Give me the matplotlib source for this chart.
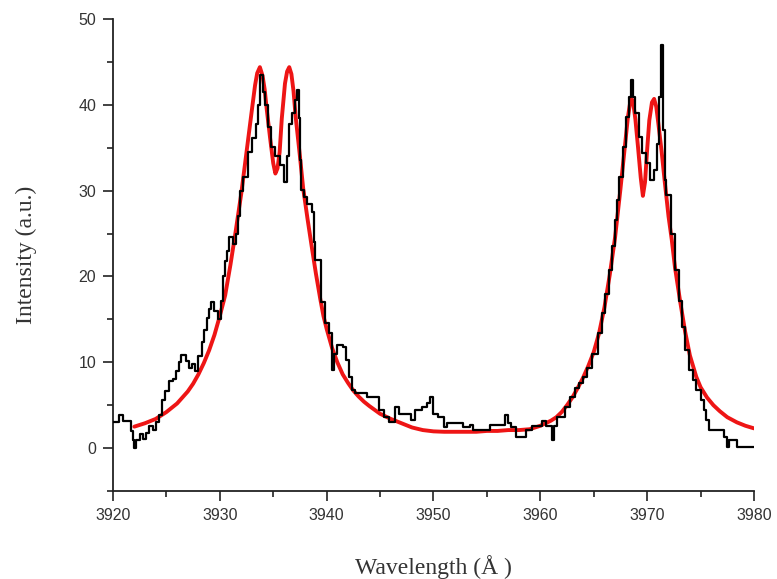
import matplotlib
matplotlib.use("Agg")
import matplotlib.pyplot as plt
from matplotlib.ticker import MultipleLocator

# Measured spectrum (black, step-like)
meas_wl = [3920.0, 3920.3, 3920.6, 3920.9, 3921.3, 3921.7, 3921.9, 3922.0, 3922.2, 3922.5,
           3922.8, 3923.1, 3923.4, 3923.7, 3924.0, 3924.3, 3924.6, 3924.9, 3925.2, 3925.6,
           3925.9, 3926.2, 3926.4, 3926.8, 3927.1, 3927.4, 3927.7, 3928.0, 3928.3, 3928.5,
           3928.8, 3929.0, 3929.2, 3929.5, 3929.8, 3930.1, 3930.3, 3930.5, 3930.7, 3930.9,
           3931.2, 3931.5, 3931.7, 3931.9, 3932.2, 3932.6, 3933.0, 3933.4, 3933.6, 3933.8,
           3934.0, 3934.2, 3934.5, 3934.8, 3935.2, 3935.6, 3936.0, 3936.3, 3936.5, 3936.8,
           3937.0, 3937.2, 3937.4, 3937.5, 3937.6, 3937.9, 3938.2, 3938.6, 3938.8, 3938.9,
           3939.5, 3939.8, 3940.2, 3940.5, 3940.7, 3941.0, 3941.5, 3941.8, 3942.1, 3942.4,
           3942.7, 3943.8, 3944.9, 3945.4, 3945.8, 3946.4, 3946.8, 3947.9, 3948.3, 3948.9,
           3949.4, 3949.7, 3950.0, 3950.4, 3951.0, 3951.3, 3952.8, 3953.4, 3953.7, 3955.3,
           3956.7, 3957.0, 3957.3, 3957.7, 3958.7, 3959.2, 3960.2, 3960.5, 3961.1, 3961.3,
           3961.6, 3962.3, 3962.8, 3963.2, 3963.6, 3964.0, 3964.4, 3964.8, 3965.4, 3965.8,
           3966.1, 3966.4, 3966.7, 3967.0, 3967.2, 3967.4, 3967.7, 3968.0, 3968.3, 3968.5,
           3968.7, 3968.9, 3969.2, 3969.5, 3969.9, 3970.3, 3970.6, 3970.9, 3971.1, 3971.3,
           3971.5, 3971.7, 3971.8, 3972.2, 3972.6, 3973.0, 3973.3, 3973.5, 3973.9, 3974.3,
           3974.6, 3975.0, 3975.3, 3975.5, 3975.8, 3977.2, 3977.5, 3977.7, 3978.4, 3980.0]
meas_int = [3.0, 3.0, 3.8, 3.2, 3.1, 2.0, 0.9, 0.0, 1.0, 1.6,
            1.1, 1.8, 2.6, 2.1, 3.0, 3.8, 5.6, 6.6, 7.8, 8.1,
            9.0, 10.0, 10.8, 10.2, 9.3, 9.8, 9.0, 10.7, 12.4, 13.8,
            15.2, 16.2, 17.0, 16.0, 15.1, 17.2, 20.0, 21.8, 23.0, 24.6,
            23.8, 25.0, 27.0, 30.0, 31.6, 34.5, 36.2, 37.8, 40.0, 43.5,
            41.5, 40.0, 37.4, 35.1, 34.0, 33.0, 31.0, 34.0, 37.8, 39.0,
            40.6, 41.7, 38.5, 33.6, 30.1, 29.3, 28.5, 27.5, 24.0, 21.9,
            17.0, 14.6, 13.4, 9.1, 11.0, 12.0, 11.8, 10.3, 8.3, 6.8,
            6.4, 6.0, 4.4, 3.6, 3.0, 4.8, 4.0, 3.3, 4.4, 4.8,
            5.2, 5.9, 4.0, 3.6, 2.5, 2.9, 2.5, 2.7, 2.1, 2.7,
            3.8, 2.9, 2.5, 1.3, 2.1, 2.6, 3.1, 2.6, 0.9, 2.6,
            3.6, 4.8, 6.0, 7.0, 7.6, 8.3, 9.3, 11.0, 13.4, 15.7,
            18.0, 20.7, 23.5, 26.6, 28.9, 31.6, 35.1, 38.6, 40.9, 42.9,
            40.9, 39.0, 36.3, 34.4, 33.2, 31.2, 32.4, 35.5, 40.9, 47.0,
            37.1, 31.2, 29.5, 25.0, 20.7, 17.2, 14.1, 11.4, 9.1, 7.9,
            6.8, 5.6, 4.4, 3.3, 2.1, 1.3, 0.1, 0.9, 0.1, 0.1]

# Fitted profile (red)
fit_wl = [3922.0, 3923.0, 3924.0, 3925.0, 3926.0, 3927.0, 3927.5, 3928.0, 3928.5, 3929.0,
          3929.5, 3930.0, 3930.5, 3931.0, 3931.5, 3932.0, 3932.5, 3933.0, 3933.3, 3933.5,
          3933.75, 3934.0, 3934.2, 3934.4, 3934.7, 3935.0, 3935.2, 3935.4, 3935.6, 3935.8,
          3936.1, 3936.3, 3936.5, 3936.7, 3936.9, 3937.1, 3937.5, 3937.8, 3938.2, 3938.6,
          3939.0, 3939.4, 3939.7, 3940.0, 3940.5, 3941.0, 3941.5, 3942.0, 3942.5, 3943.0,
          3943.5, 3944.0, 3945.0, 3946.0, 3947.0, 3948.0, 3949.0, 3950.0, 3951.0, 3952.0,
          3953.0, 3954.0, 3955.0, 3956.0, 3957.0, 3958.0, 3959.0, 3960.0, 3960.5, 3961.0,
          3961.5, 3962.0, 3962.5, 3963.0, 3963.5, 3964.0, 3964.5, 3965.0, 3965.5, 3966.0,
          3966.5, 3967.0, 3967.5, 3967.9, 3968.2, 3968.4, 3968.55, 3968.7, 3968.9, 3969.15,
          3969.4, 3969.6, 3969.8, 3970.0, 3970.2, 3970.45, 3970.65, 3970.85, 3971.05, 3971.35,
          3971.65, 3972.0, 3972.3, 3972.6, 3973.1, 3973.55, 3974.0, 3974.6, 3975.0, 3975.6,
          3976.2, 3976.8, 3977.5, 3978.4, 3979.2, 3980.0]
fit_int = [2.5, 2.9, 3.4, 4.2, 5.2, 6.6, 7.5, 8.6, 9.9, 11.4,
           13.2, 15.4, 17.8, 21.4, 25.4, 29.6, 34.5, 39.4, 42.3, 43.7,
           44.4, 43.4, 41.8, 39.4, 36.2, 33.2, 32.0, 32.6, 34.5, 38.4,
           42.5, 43.9, 44.4, 43.6, 41.6, 38.6, 34.0, 30.3, 26.8, 23.5,
           20.3, 17.4, 15.4, 13.9, 11.7, 10.0, 8.6, 7.6, 6.7, 6.0,
           5.4, 4.9, 4.0, 3.4, 2.9, 2.4, 2.1, 1.95, 1.9, 1.9,
           1.9, 1.9, 2.0, 2.0, 2.1, 2.1, 2.2, 2.6, 2.9, 3.2,
           3.6, 4.2, 5.0, 5.9, 7.0, 8.2, 9.6, 11.2, 13.4, 16.4,
           20.2, 24.6, 30.2, 35.0, 38.6, 40.2, 40.7, 40.2, 38.3, 35.0,
           31.5, 29.4, 31.0, 34.8, 38.2, 40.3, 40.7, 39.8, 37.8, 34.6,
           31.0, 27.0, 24.3, 21.1, 17.0, 13.6, 10.8, 8.3, 7.1, 5.9,
           5.0, 4.3, 3.6, 3.0, 2.6, 2.3]

x_ticks = [3920, 3930, 3940, 3950, 3960, 3970, 3980]
y_ticks = [0, 10, 20, 30, 40, 50]

fig = plt.figure(figsize=(7.77, 5.79), dpi=100)
ax = fig.add_axes([0.1454, 0.152, 0.825, 0.815])

ax.plot(fit_wl, fit_int, color="#ee1515", lw=2.8, solid_capstyle="round", zorder=2)
ax.plot(meas_wl, meas_int, color="black", lw=1.6, drawstyle="steps-post", zorder=3)

ax.set_xlim(3920, 3980)
ax.set_ylim(-5, 50)
ax.set_xticks(x_ticks)
ax.set_yticks(y_ticks)
ax.xaxis.set_minor_locator(MultipleLocator(5))
ax.yaxis.set_minor_locator(MultipleLocator(5))

for s in ("top", "right"):
    ax.spines[s].set_visible(False)
for s in ("left", "bottom"):
    ax.spines[s].set_linewidth(1.3)
    ax.spines[s].set_color("#222222")

ax.tick_params(which="major", direction="out", length=7, width=1.2, colors="#222222",
               labelsize=11.5, labelcolor="#333333", pad=5)
ax.tick_params(which="minor", direction="out", length=4, width=1.2, colors="#222222")
for lab in ax.get_xticklabels() + ax.get_yticklabels():
    lab.set_family("Liberation Sans")

ax.set_xlabel("Wavelength (Å )", family="Liberation Serif", fontsize=17, color="#333333", labelpad=23)
ax.set_ylabel("Intensity (a.u.)", family="Liberation Serif", fontsize=17, color="#333333", labelpad=30)

fig.savefig("out.png", dpi=100)
